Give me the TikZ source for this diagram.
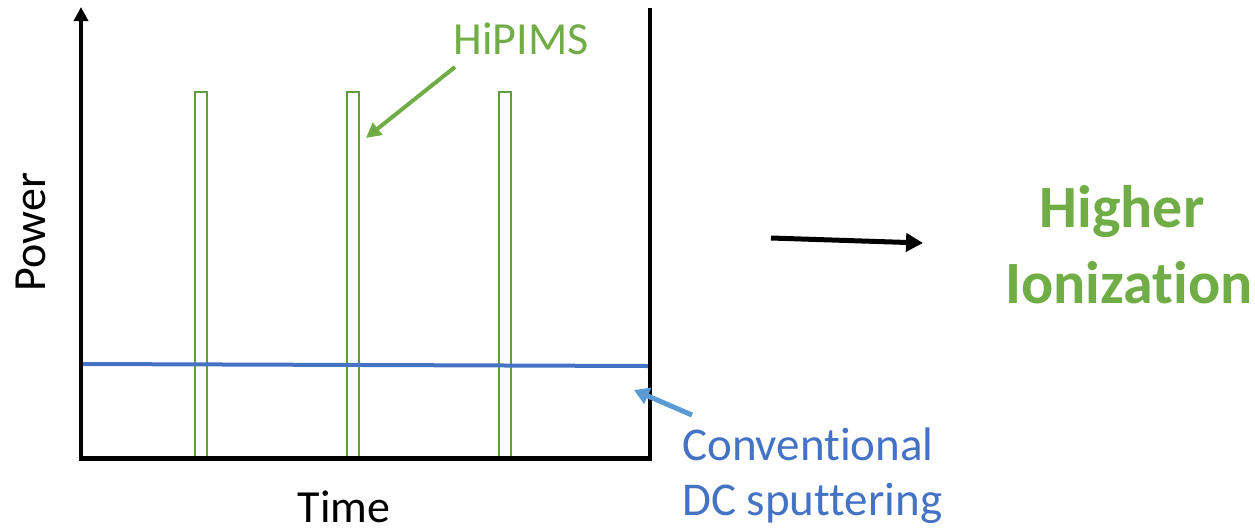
\documentclass[tikz,border=0pt]{standalone}
\usepackage{fontspec}
\setmainfont{Carlito}[Ligatures=NoCommon]
\usetikzlibrary{arrows.meta}
\definecolor{ofgreen}{HTML}{70AD47}
\definecolor{pulsegreen}{HTML}{5E9E3C}
\definecolor{ofblue}{HTML}{4472C4}
\definecolor{arrblue}{HTML}{5B9BD5}
\tikzset{
  axisline/.style={line width=4.5pt, black},
  pulse/.style={draw=pulsegreen, line width=2.6pt},
  lbl/.style={inner sep=0pt, anchor=base, font=\fontsize{46}{55}\selectfont},
  bigl/.style={inner sep=0pt, anchor=base, text=ofgreen, font=\fontsize{60}{70}\bfseries\selectfont},
}
\begin{document}
\begin{tikzpicture}[x=1pt,y=-1pt]
\useasboundingbox (0,0) rectangle (1255,531);
% pulses
\draw[pulse] (195,458) rectangle (207,92);
\draw[pulse] (347,458) rectangle (359,92);
\draw[pulse] (499,458) rectangle (511,92);
% DC line
\coordinate (dcL) at (84,364);
\coordinate (dcR) at (648,366);
\draw[ofblue, line width=4pt, line cap=round] (dcL) -- (dcR);
% axes
\coordinate (ytop) at (81,7);
\coordinate (xend) at (652,458);
\coordinate (rtop) at (650,8);
\coordinate (rbot) at (650,460);
\draw[axisline, -{Triangle[width=14pt,length=14pt]}] (81,460) -- (ytop);
\draw[line width=5pt] (79,458) -- (xend);
\draw[axisline] (rtop) -- (rbot);
% labels
\node[lbl, rotate=90] (power) at (45,232) {Power};
\node[lbl] (time) at (344,522) {Time};
\node[lbl, text=ofgreen] (hip) at (521,54) {HiPIMS};
\node[lbl, text=ofblue, anchor=base west, font=\fontsize{47}{55}\selectfont] (conv) at (682,460) {Conventional};
\node[lbl, text=ofblue, anchor=base west, font=\fontsize{47}{55}\selectfont] (dcs) at (682,515) {DC sputtering};
\node[bigl] (hi1) at (1122,227) {Higher};
\node[bigl] (hi2) at (1129,303) {Ionization};
% connectors
\coordinate (hipS) at (455,67);
\coordinate (hipE) at (366,138);
\draw[ofgreen, line width=4pt, -{Triangle[width=15pt,length=15pt]}] (hipS) -- (hipE);
\coordinate (dcS) at (692,415);
\coordinate (dcE) at (634,390);
\draw[arrblue, line width=5pt, -{Triangle[width=17pt,length=15pt]}] (dcS) -- (dcE);
\coordinate (bkS) at (771,238);
\coordinate (bkE) at (923,243);
\draw[black, line width=5pt, -{Triangle[width=18pt,length=17pt]}] (bkS) -- (bkE);
\end{tikzpicture}
\end{document}
